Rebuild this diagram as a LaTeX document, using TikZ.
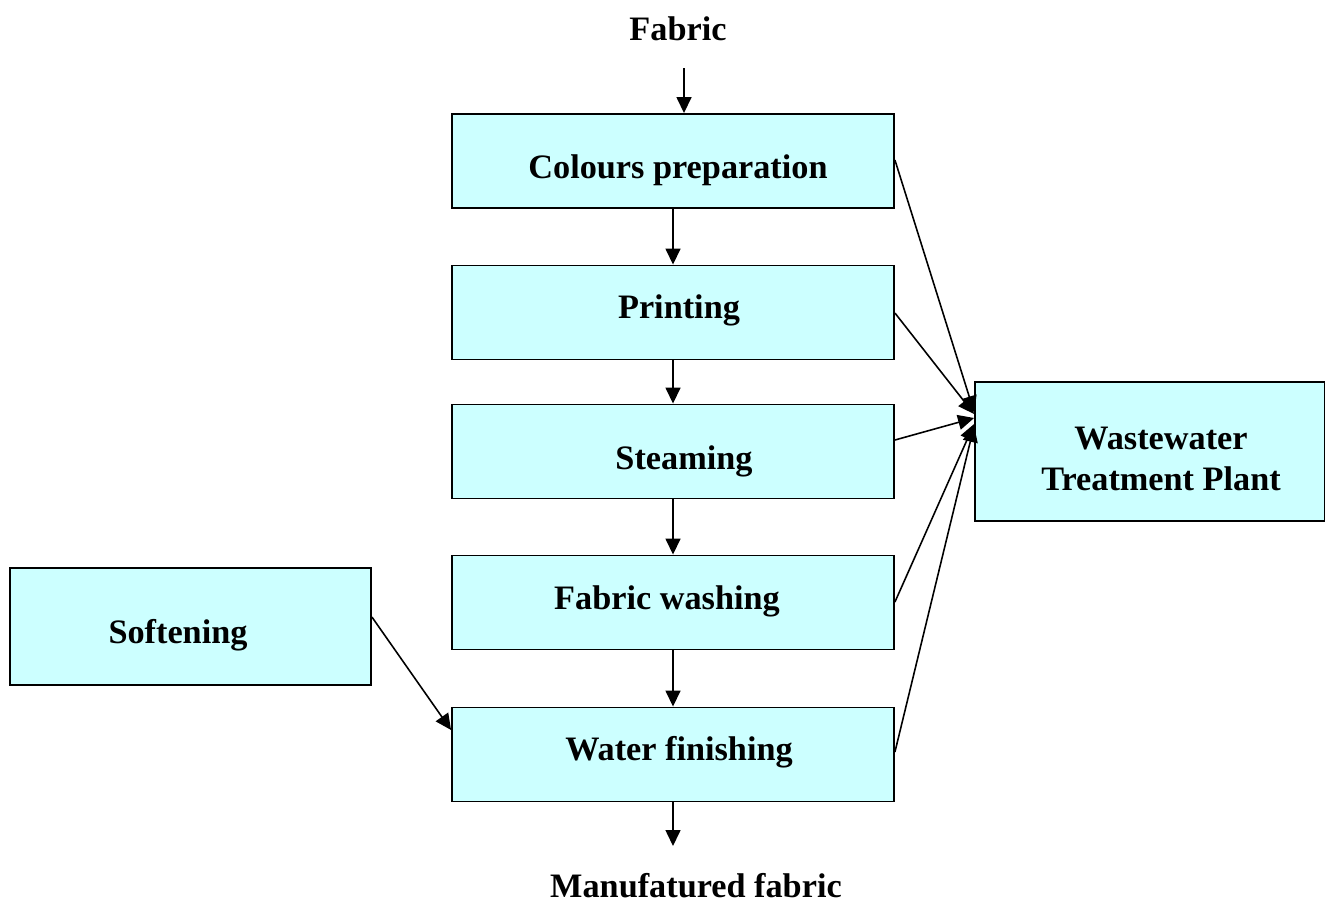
\documentclass[tikz,border=0pt]{standalone}
\usepackage{fontspec}
\setmainfont{Liberation Serif}
\usetikzlibrary{arrows.meta}
\definecolor{boxfill}{HTML}{CCFFFF}
\tikzset{
  stage/.style={draw=black, line width=1.1pt, fill=boxfill, minimum width=8.84cm,
    minimum height=1.88cm, inner sep=0pt},
  sidebox/.style={draw=black, line width=1.1pt, fill=boxfill, inner sep=0pt},
  txt/.style={inner sep=0pt, font=\fontsize{19.5}{23.8}\selectfont\bfseries, align=center},
  flow/.style={line width=0.9pt, -{Triangle[length=0.32cm,width=0.3cm]}}
}
\begin{document}
\begin{tikzpicture}[x=0.02cm, y=-0.02cm]
  \useasboundingbox (0,0) rectangle (1325,903);

  % main process column
  \node[stage] (colours) at (673,161) {};
  \node[stage] (printing) at (673,312.5) {};
  \node[stage] (steaming) at (673,451.5) {};
  \node[stage] (washing) at (673,602.5) {};
  \node[stage] (finishing) at (673,754.5) {};

  % side boxes
  \node[sidebox, minimum width=7.22cm, minimum height=2.34cm] (softening) at (190.5,626.5) {};
  \node[sidebox, minimum width=7.0cm, minimum height=2.78cm] (wwtp) at (1150,451.5) {};

  % box captions
  \node[txt] (coloursT) at (678,170) {Colours preparation};
  \node[txt] (printingT) at (679,310) {Printing};
  \node[txt] (steamingT) at (684,461) {Steaming};
  \node[txt] (washingT) at (667,601) {Fabric washing};
  \node[txt] (finishingT) at (679,752) {Water finishing};
  \node[txt] (softeningT) at (178,635) {Softening};
  \node[txt] (wwtpT) at (1161,459) {Wastewater\\Treatment Plant};

  % input and output labels
  \node[txt] (fabric) at (678,29) {Fabric};
  \coordinate (fabricout) at (684,68);
  \node[txt] (product) at (696,886) {Manufatured fabric};
  \coordinate (productin) at (673,846);

  % main flow
  \draw[flow] (fabricout) -- (fabricout |- colours.north);
  \draw[flow] (colours.south) -- (printing.north);
  \draw[flow] (printing.south) -- (steaming.north);
  \draw[flow] (steaming.south) -- (washing.north);
  \draw[flow] (washing.south) -- (finishing.north);
  \draw[flow] (finishing.south) -- (productin);

  % softening feeds the finishing step
  \draw[flow] (softening.east |- 0,617) -- (finishing.west |- 0,730);

  % wastewater streams
  \draw[flow] (colours.east |- 0,160) -- (wwtp.west |- 0,412);
  \draw[flow] (printing.east |- 0,313) -- (wwtp.west |- 0,414);
  \draw[flow] (steaming.east |- 0,440) -- (wwtp.west |- 0,418);
  \draw[flow] (washing.east |- 0,602) -- (wwtp.west |- 0,424);
  \draw[flow] (finishing.east |- 0,752) -- (wwtp.west |- 0,426);
\end{tikzpicture}
\end{document}
